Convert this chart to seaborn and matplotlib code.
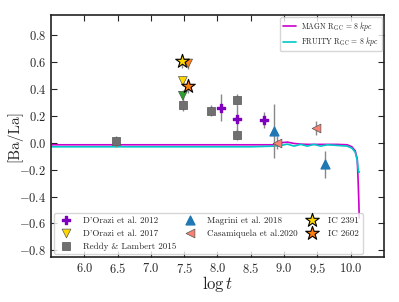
import matplotlib
matplotlib.use('Agg')
import matplotlib.pyplot as plt
import seaborn as sns
import pandas as pd

# model curves
model_x = [5.5, 7.0, 8.5, 8.85, 8.95, 9.05, 9.15, 9.25, 9.35, 9.45, 9.55, 9.65,
           9.8, 9.95, 10.02, 10.07, 10.1, 10.115, 10.125, 10.13]
magn_y = [-0.015, -0.015, -0.015, -0.015, 0.0, 0.005, -0.005, -0.01, -0.012, -0.012,
          -0.012, -0.012, -0.012, -0.015, -0.03, -0.06, -0.12, -0.3, -0.45, -0.56]
fruity_y = [-0.03, -0.03, -0.03, -0.025, -0.02, -0.01, -0.025, -0.012, -0.025, -0.012,
            -0.025, -0.015, -0.02, -0.025, -0.04, -0.07, -0.13, -0.2, -0.22, -0.22]

# observations
dor12_x = [8.05, 8.3, 8.7]
dor12_y = [0.26, 0.18, 0.17]
dor12_e = [0.1, 0.1, 0.06]

dor17_x = [7.48, 7.56, 7.48]
dor17_y = [0.46, 0.59, 0.35]
dor17_e = [0.04, 0.04, 0.04]
dor17_c = ['#ffd700', '#ff7f0e', '#2ca02c']

reddy_x = [6.48, 7.48, 7.9, 8.3, 8.3]
reddy_y = [0.01, 0.28, 0.24, 0.32, 0.06]
reddy_e = [0.04, 0.04, 0.04, 0.04, 0.04]

mag_x = [8.85, 9.62]
mag_y = [0.09, -0.16]
mag_e = [0.2, 0.1]

cas_x = [8.9, 9.48]
cas_y = [0.0, 0.11]
cas_e = [0.05, 0.05]

ic2391 = (7.47, 0.61, 0.05)
ic2602 = (7.56, 0.42, 0.05)

sns.set_style('ticks')
plt.rcParams['font.family'] = 'serif'
plt.rcParams['font.serif'] = ['cmr10']
plt.rcParams['mathtext.fontset'] = 'cm'
plt.rcParams['axes.formatter.use_mathtext'] = True
plt.rcParams['axes.unicode_minus'] = True

fig, ax = plt.subplots(figsize=(3.99, 3.02), dpi=100)

models = pd.DataFrame({'x': model_x + model_x,
                       'y': magn_y + fruity_y,
                       'model': [r'MAGN R$_{\rm GC}$ = 8 $kpc$'] * len(model_x)
                                + [r'FRUITY R$_{\rm GC}$ = 8 $kpc$'] * len(model_x)})
sns.lineplot(data=models, x='x', y='y', hue='model', sort=False,
             palette=['#cc00cc', '#00c8c8'], linewidth=1.2, ax=ax)
line_handles, line_labels = ax.get_legend_handles_labels()
ax.get_legend().remove()

ek = dict(ecolor='#888888', elinewidth=1, capsize=0, ls='none', zorder=3)
ax.errorbar(reddy_x, reddy_y, yerr=reddy_e, **ek)
ax.errorbar(dor12_x, dor12_y, yerr=dor12_e, **ek)
ax.errorbar(dor17_x, dor17_y, yerr=dor17_e, **ek)
ax.errorbar(mag_x, mag_y, yerr=mag_e, **ek)
ax.errorbar(cas_x, cas_y, yerr=cas_e, **ek)
ax.errorbar([ic2391[0], ic2602[0]], [ic2391[1], ic2602[1]], yerr=[ic2391[2], ic2602[2]], **ek)

h1 = ax.scatter(dor12_x, dor12_y, marker='P', s=38, color='#8000c0', edgecolor='#8000c0', zorder=4)
h2 = ax.scatter(dor17_x, dor17_y, marker='v', s=40, c=dor17_c, edgecolor='#555555', lw=0.5, zorder=4)
h3 = ax.scatter(reddy_x, reddy_y, marker='s', s=36, color='#707070', edgecolor='#555555', lw=0.5, zorder=4)
h4 = ax.scatter(mag_x, mag_y, marker='^', s=40, color='#1f77b4', edgecolor='#1f77b4', zorder=4)
h5 = ax.scatter(cas_x, cas_y, marker='<', s=40, color='#fa8072', edgecolor='#555555', lw=0.5, zorder=4)
h6 = ax.scatter([ic2391[0]], [ic2391[1]], marker='*', s=105, color='#ffd700', edgecolor='black', lw=0.8, zorder=5)
h7 = ax.scatter([ic2602[0]], [ic2602[1]], marker='*', s=105, color='#ff7f0e', edgecolor='black', lw=0.8, zorder=5)
h2leg = ax.scatter([], [], marker='v', s=40, color='#ffd700', edgecolor='#555555', lw=0.5)

ax.set_xlim(5.5, 10.5)
ax.set_ylim(-0.85, 0.95)
ax.set_xticks([6.0, 6.5, 7.0, 7.5, 8.0, 8.5, 9.0, 9.5, 10.0])
ax.set_yticks([-0.8, -0.6, -0.4, -0.2, 0.0, 0.2, 0.4, 0.6, 0.8])
ax.tick_params(direction='in', top=True, right=True, labelsize=9, length=4, width=0.8)
for s in ax.spines.values():
    s.set_linewidth(1.2)
    s.set_color('#222222')
ax.set_xlabel(r'$\log t$', fontsize=12)
ax.set_ylabel('[Ba/La]', fontsize=11)
ax.yaxis.set_label_coords(-0.087, 0.5)
ax.xaxis.set_label_coords(0.5, -0.07)

leg1 = ax.legend(line_handles, line_labels, loc='upper right', fontsize=5.5,
                 frameon=True, handlelength=1.8, handletextpad=0.6,
                 labelspacing=0.3, borderpad=0.35, borderaxespad=0.3)
ax.add_artist(leg1)
ax.legend([h1, h2leg, h3, h4, h5, h6, h7],
          ["D'Orazi et al. 2012", "D'Orazi et al. 2017", 'Reddy & Lambert 2015',
           'Magrini et al. 2018', 'Casamiquela et al.2020', 'IC 2391', 'IC 2602'],
          loc='lower left', bbox_to_anchor=(0.0, 0.0), ncol=3, fontsize=6.5,
          frameon=True, columnspacing=0.6, handletextpad=0.8, borderaxespad=0.3)

fig.subplots_adjust(left=0.128, right=0.962, top=0.95, bottom=0.149)
fig.savefig('out.png', dpi=100)
